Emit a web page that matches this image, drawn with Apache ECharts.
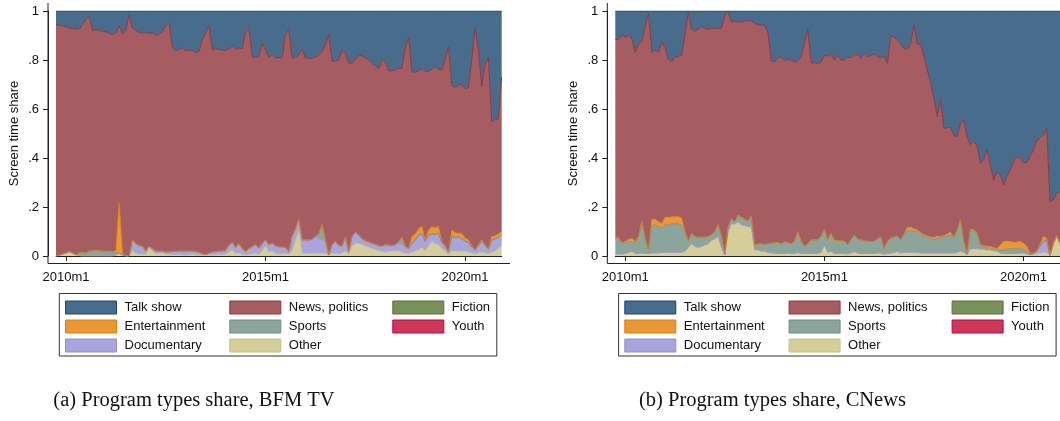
<!DOCTYPE html>
<html>
<head>
<meta charset="utf-8">
<script src="https://cdn.jsdelivr.net/npm/echarts@6/dist/echarts.min.js"></script>
<style>
html,body{margin:0;padding:0;background:#fff;}
#chart{width:1060px;height:421px;}
</style>
</head>
<body>
<div id="chart"></div>
<script>
// ---------- categories & tick labels ----------
const months = [];
for (let k = 0; k < 135; k++) { const m = 9 + k; months.push((2009 + Math.floor(m / 12)) + 'm' + (m % 12 + 1)); }
const xTickLabels = ['2010m1', '2015m1', '2020m1'];
const yTickLabels = ['0', '.2', '.4', '.6', '.8', '1'];
const seriesNames = ['Talk show', 'News, politics', 'Fiction', 'Entertainment', 'Sports', 'Youth', 'Documentary', 'Other'];
const captions = ['(a) Program types share, BFM TV', '(b) Program types share, CNews'];

// ---------- BFM TV (left panel) ----------
const talkL = [.057,.058,.06,.065,.07,.072,.074,.075,.055,.035,.023,.08,.075,.08,.082,
.085,.092,.095,.09,.06,.095,.08,.016,.07,.08,.088,.09,.088,.09,.09,
.098,.095,.085,.06,.05,.152,.162,.155,.15,.162,.16,.162,.17,.165,.12,
.09,.06,.16,.155,.155,.16,.162,.154,.144,.155,.15,.155,.087,.071,.187,
.19,.188,.132,.16,.19,.18,.19,.19,.19,.095,.075,.193,.19,.18,.155,
.193,.193,.193,.188,.18,.165,.138,.095,.207,.203,.2,.162,.173,.214,.212,
.2,.18,.183,.19,.2,.214,.224,.234,.2,.207,.245,.243,.241,.233,.234,
.152,.109,.25,.248,.245,.234,.248,.245,.238,.228,.237,.241,.2,.146,.305,
.312,.305,.298,.317,.314,.2,.071,.16,.307,.22,.19,.452,.442,.44,.27];
const newsL = [.943,.939,.932,.923,.912,.916,.921,.911,.93,.953,.957,.898,.901,.898,.898,
.895,.888,.887,.888,.723,.895,.92,.984,.865,.87,.87,.87,.892,.87,.88,
.882,.885,.895,.924,.933,.83,.819,.825,.83,.819,.82,.818,.812,.82,.872,
.904,.929,.824,.827,.825,.82,.816,.801,.801,.81,.80,.815,.895,.899,.775,
.764,.78,.818,.774,.765,.768,.768,.772,.774,.87,.907,.727,.70,.67,.779,
.741,.742,.739,.732,.73,.705,.796,.901,.747,.737,.757,.798,.75,.768,.708,
.703,.734,.747,.748,.743,.734,.729,.724,.76,.747,.71,.715,.713,.707,.689,
.808,.861,.67,.662,.645,.644,.686,.65,.642,.657,.643,.699,.757,.836,.589,
.593,.602,.609,.61,.62,.758,.904,.794,.627,.734,.78,.468,.475,.47,.63];
const fictionL = [0,0,0,0,0,0,0,0,0,0,0,0,0,0,0, 0,0,0,0,0,0,0,0,0,0,0,0,0,0,0,
0,0,0,0,0,0,0,0,0,0,0,0,0,0,0, 0,0,0,0,0,0,0,0,0,0,0,0,0,0,0, 0,0,0,0,0,0,0,0,0,0,0,0,0,0,0,
0,0,0,0,0,0,0,0,0,0,0,0,0,0,0, 0,0,0,0,0,0,0,0,0,0,0,0,0,0,0, 0,0,0,0,0,0,0,0,0,0,0,0,0,0,0,
0,0,0,0,0,0,0,0,0,0,0,0,0,0,0];
const entL = [0,0,0,0,0,0,0,0,0,0,0,0,0,0,0,
0,0,0,.01,.205,.006,0,0,0,0,0,0,0,0,0,
0,0,0,0,0,0,0,0,0,0,0,0,0,0,0,
0,0,0,0,0,0,0,0,0,0,0,0,0,0,0,
0,0,0,0,0,0,0,0,0,0,0,0,0,0,0,
0,0,0,0,0,0,0,0,0,0,0,0,0,0,0,
0,0,0,0,0,0,0,0,0,0,0,0,0,0,0,
0,0,.028,.025,.025,.03,.006,.02,.03,.027,.03,.005,.003,.002,.024,
.02,.015,.023,.013,.011,.005,.002,.004,.006,.004,.002,.015,.013,.015,.015];
const sportsL = [0,0,0,0,0,0,0,.012,.015,.012,.02,.022,.024,.022,.02,
.02,.02,.018,.008,0,0,0,0,0,0,0,0,0,0,0,
0,0,0,0,0,0,0,0,0,0,0,0,0,0,0,
0,0,0,0,0,0,0,0,0,0,0,0,0,0,0,
0,0,0,0,0,0,0,0,0,0,0,0,0,0,0,
0,0,0,0,.02,.065,0,0,0,0,0,0,0,0,0,
0,0,0,0,0,0,0,0,0,0,0,0,0,.01,.027,
.005,0,0,0,0,0,0,0,0,0,0,0,0,0,0,
0,0,0,0,0,0,0,0,0,0,0,0,0,0,0];
const youthL = [0,0,0,0,0,0,0,0,0,0,0,0,0,0,0, 0,0,0,0,0,0,0,0,0,0,0,0,0,0,0,
0,0,0,0,0,0,0,0,0,0,0,0,0,0,0, 0,0,0,0,0,0,0,0,0,0,0,0,0,0,0, 0,0,0,0,0,0,0,0,0,0,0,0,0,0,0,
0,0,0,0,0,0,0,0,0,0,0,0,0,0,0, 0,0,0,0,0,0,0,0,0,0,0,0,0,0,0, 0,0,0,0,0,0,0,0,0,0,0,0,0,0,0,
0,0,0,0,0,0,0,0,0,0,0,0,0,0,0];
const docL = [0,0,0,0,0,0,0,0,0,0,0,0,0,0,0,
0,0,0,0,0,0,0,0,.045,.04,.036,.032,.014,.008,.012,
.012,.01,.008,.01,.012,.014,.015,.015,.016,.016,.016,.014,.014,.012,.006,
.004,.008,.012,.014,.015,.016,.016,.03,.03,.025,.038,.024,.014,.025,.03,
.036,.026,.03,.026,.03,.032,.032,.03,.028,.025,.013,.06,.05,.05,.054,
.056,.055,.058,.068,.06,.055,.056,.002,.036,.05,.035,.03,.057,.012,.04,
.047,.036,.025,.022,.022,.022,.022,.022,.022,.031,.027,.022,.026,.03,.035,
.025,.022,.037,.045,.06,.057,.04,.045,.03,.038,.045,.025,.02,.012,.062,
.055,.06,.05,.04,.04,.025,.015,.03,.045,.03,.018,.05,.05,.045,.04];
const otherL = [0,.003,.008,.012,.018,.012,.005,.002,0,0,0,0,0,0,0,
0,0,0,.004,.012,.004,0,0,.02,.01,.006,.008,.006,.032,.018,
.008,.01,.012,.006,.005,.004,.004,.005,.004,.003,.004,.006,.004,.003,.002,
.002,.003,.004,.004,.005,.004,.006,.015,.025,.01,.012,.006,.004,.005,.008,
.01,.006,.02,.04,.015,.02,.01,.008,.008,.01,.005,.02,.06,.1,.012,
.01,.01,.01,.012,.01,.01,.01,.002,.01,.01,.008,.01,.02,.006,.04,
.05,.05,.045,.04,.035,.03,.025,.02,.018,.015,.018,.02,.02,.02,.015,
.01,.008,.015,.02,.025,.035,.02,.04,.06,.05,.045,.03,.02,.004,.02,
.02,.018,.02,.02,.015,.012,.008,.012,.015,.012,.01,.015,.02,.03,.045];

// ---------- CNews (right panel) ----------
const talkR = [.116,.116,.098,.107,.1,.114,.17,.135,.125,.065,.01,.169,.159,.17,.127,
.151,.197,.207,.187,.184,.18,.1,.007,.075,.082,.075,.064,.071,.074,.071,
.071,.071,.07,.017,.003,.048,.041,.044,.044,.04,.04,.041,.05,.057,.058,
.058,.09,.204,.207,.19,.188,.203,.197,.2,.208,.203,.19,.132,.075,.211,
.213,.214,.211,.18,.184,.176,.2,.18,.2,.2,.189,.19,.177,.18,.193,
.173,.187,.182,.176,.187,.19,.184,.214,.102,.105,.121,.136,.152,.157,.136,
.057,.135,.136,.187,.241,.295,.356,.431,.364,.479,.476,.476,.506,.514,.46,
.445,.513,.547,.534,.547,.622,.608,.567,.629,.69,.656,.669,.71,.676,.649,
.615,.595,.601,.622,.618,.595,.567,.527,.52,.506,.479,.778,.771,.743,.736];
const newsR = [.809,.81,.848,.834,.832,.814,.772,.785,.731,.865,.965,.681,.691,.69,.74,
.691,.645,.633,.653,.656,.665,.8,.932,.832,.839,.848,.859,.852,.846,.843,
.829,.799,.851,.975,.877,.799,.819,.789,.798,.81,.816,.796,.905,.893,.892,
.894,.86,.744,.738,.755,.762,.739,.748,.75,.732,.697,.75,.828,.875,.723,
.721,.72,.709,.712,.75,.731,.735,.757,.737,.74,.765,.745,.737,.75,.741,
.765,.753,.758,.764,.743,.731,.785,.726,.825,.817,.797,.798,.758,.726,.747,
.831,.76,.769,.726,.677,.627,.568,.487,.556,.437,.434,.426,.417,.381,.393,
.495,.477,.343,.358,.359,.331,.35,.393,.332,.275,.314,.287,.23,.263,.291,
.329,.348,.339,.326,.342,.395,.421,.453,.43,.414,.449,.219,.179,.174,.214];
const fictionR = [0,0,0,0,0,0,0,0,0,0,0,0,0,0,0, 0,0,0,0,0,0,0,0,0,0,0,0,0,0,0,
0,0,0,0,0,0,0,0,0,0,0,0,0,0,0, 0,0,0,0,0,0,0,0,0,0,0,0,0,0,0, 0,0,0,0,0,0,0,0,0,0,0,0,0,0,0,
0,0,0,0,0,0,0,0,0,0,0,0,0,0,0, 0,0,0,0,0,0,0,0,0,0,0,0,0,0,0, 0,0,0,0,0,0,0,0,0,0,0,0,0,0,0,
0,0,0,0,0,0,0,0,0,0,0,0,0,0,0];
const entR = [0,0,0,.004,.008,.015,.006,0,0,0,0,.027,.023,.02,.019,
.031,.03,.029,.029,.029,.03,0,0,0,0,0,0,0,0,0,
0,0,0,0,0,0,0,0,0,0,0,0,0,0,0,
0,0,0,0,0,0,0,0,0,0,0,0,0,0,0,
0,0,0,0,0,0,0,0,0,0,0,0,0,0,0,
0,0,0,0,0,0,0,0,0,0,0,0,0,.014,.014,
.01,.008,.008,.005,.006,.006,.008,.01,.006,.006,.008,.01,.005,0,0,
0,0,.005,.004,.004,.005,.006,.007,.008,.007,.005,.02,.035,.033,.03,
.026,.027,.028,.025,.022,.003,.002,.002,.01,.02,.01,0,0,0,0];
const sportsR = [.067,.066,.046,.045,.045,.037,.042,.07,.132,.06,.015,.111,.115,.107,.1,
.112,.113,.117,.116,.116,.11,.08,.026,.043,.039,.042,.037,.032,.03,.021,
.03,.05,.044,.004,.02,.02,.01,.027,.031,.025,.024,.043,.02,.025,.03,
.028,.035,.04,.043,.045,.04,.048,.043,.04,.05,.085,.05,.03,.04,.056,
.056,.056,.065,.063,.051,.073,.055,.053,.053,.05,.038,.053,.068,.058,.056,
.052,.05,.05,.05,.058,.067,.025,.05,.061,.063,.064,.054,.075,.088,.088,
.087,.082,.075,.07,.064,.06,.056,.06,.062,.066,.07,.076,.06,.09,.127,
.045,.005,.075,.074,.06,.014,.008,.008,.006,.006,.005,.012,.015,.018,.02,
.02,.02,.02,.015,.01,.002,0,0,0,0,0,0,0,0,0];
const youthR = [0,0,0,0,0,0,0,0,0,0,0,0,0,0,0, 0,0,0,0,0,0,0,0,0,0,0,0,0,0,0,
0,0,0,0,0,0,0,0,0,0,0,0,0,0,0, 0,0,0,0,0,0,0,0,0,0,0,0,0,0,0, 0,0,0,0,0,0,0,0,0,0,0,0,0,0,0,
0,0,0,0,0,0,0,0,0,0,0,0,0,0,0, 0,0,0,0,0,0,0,0,0,0,0,0,0,0,0, 0,0,0,0,0,0,0,0,0,0,0,0,0,0,0,
0,0,0,0,0,0,0,0,0,0,0,0,0,0,0];
const docR = [0,0,0,0,0,0,0,0,0,0,0,0,0,0,0, 0,0,0,0,0,0,0,0,0,0,0,0,0,0,0,
0,0,0,0,0,0,0,0,0,0,0,0,0,0,0, 0,0,0,0,0,0,0,0,0,0,0,0,0,0,0, 0,0,0,0,0,0,0,0,0,0,0,0,0,0,0,
0,0,0,0,0,0,0,0,0,0,0,0,0,0,0, 0,0,0,0,0,0,0,0,0,0,0,0,0,0,0, 0,0,0,0,0,0,0,0,0,0,0,0,0,0,0,
0,0,0,0,0,0,.005,.01,.03,.045,.05,0,0,0,0];
const otherR = [.008,.008,.008,.01,.015,.02,.01,.01,.012,.01,.01,.012,.012,.013,.014,
.015,.015,.014,.015,.015,.015,.02,.035,.05,.04,.035,.04,.045,.05,.065,
.07,.08,.035,.004,.1,.133,.13,.14,.127,.125,.12,.12,.025,.025,.02,
.02,.015,.012,.012,.01,.01,.01,.012,.01,.01,.015,.01,.01,.01,.01,
.01,.01,.015,.045,.015,.02,.01,.01,.01,.01,.008,.012,.018,.012,.01,
.01,.01,.01,.01,.012,.012,.006,.01,.012,.015,.018,.012,.015,.015,.015,
.015,.015,.012,.012,.012,.012,.012,.012,.012,.012,.012,.012,.012,.015,.02,
.015,.005,.03,.03,.03,.028,.028,.025,.025,.022,.02,.012,.01,.01,.01,
.01,.01,.012,.012,.008,.005,.005,.008,.01,.015,.012,.003,.05,.083,.05];

// ---------- styles ----------
const fills = {'Talk show':'#486c8c','News, politics':'#a65d62','Fiction':'#779159','Entertainment':'#e99833',
  'Sports':'#8ba59d','Youth':'#cd375d','Documentary':'#a9a4db','Other':'#d5ce98'};
const lines = {'Talk show':'#1a476f','News, politics':'#90353b','Fiction':'#55752f','Entertainment':'#e37e00',
  'Sports':'#6e8e84','Youth':'#c10534','Documentary':'#938dd2','Other':'#cac27e'};
const lineW = {'Talk show':1,'News, politics':1,'Fiction':0,'Entertainment':0.8,'Sports':0.8,'Youth':0,'Documentary':0.8,'Other':0.8};
const FONT = 'Liberation Sans, Arial, sans-serif';
const AX = '#222';

const panels = [
  {left:56, data:{'Other':otherL,'Documentary':docL,'Youth':youthL,'Sports':sportsL,'Entertainment':entL,'Fiction':fictionL,'News, politics':newsL,'Talk show':talkL}},
  {left:615.3, data:{'Other':otherR,'Documentary':docR,'Youth':youthR,'Sports':sportsR,'Entertainment':entR,'Fiction':fictionR,'News, politics':newsR,'Talk show':talkR}}
];
const stackOrder = ['Other','Documentary','Youth','Sports','Entertainment','Fiction','News, politics','Talk show'];

const grid = [], xAxis = [], yAxis = [], series = [], legend = [], graphic = [];
panels.forEach((p, gi) => {
  grid.push({left:p.left, top:11, width:445.7, height:245, containLabel:false});
  const showTick = (idx, val) => xTickLabels.indexOf(val) >= 0;
  xAxis.push({gridIndex:gi, type:'category', data:months, boundaryGap:false, offset:7,
    axisLine:{show:true, lineStyle:{color:AX, width:1}},
    axisTick:{show:true, interval:showTick, length:5, lineStyle:{color:AX, width:1}},
    axisLabel:{interval:showTick, margin:8, fontSize:13, color:'#111', fontFamily:FONT},
    splitLine:{show:false}});
  yAxis.push({gridIndex:gi, type:'value', min:0, max:1, interval:0.2, offset:8,
    axisLine:{show:true, lineStyle:{color:AX, width:1}},
    axisTick:{show:true, length:5, lineStyle:{color:AX, width:1}},
    axisLabel:{margin:9, fontSize:13, color:'#111', fontFamily:FONT, formatter:v => yTickLabels[Math.round(v / 0.2)]},
    splitLine:{show:false},
    name:'Screen time share', nameLocation:'middle', nameGap:27,
    nameTextStyle:{fontSize:13, color:'#111', fontFamily:FONT}});
  stackOrder.forEach(name => {
    series.push({name, type:'line', data:p.data[name], xAxisIndex:gi, yAxisIndex:gi,
      stack:'s' + gi, symbol:'none', showSymbol:false, silent:true, animation:false,
      lineStyle:{color:lines[name], width:lineW[name], opacity: lineW[name] ? 1 : 0},
      itemStyle:{color:fills[name]},
      areaStyle:{color:fills[name], opacity:1},
      emphasis:{disabled:true}});
  });
  // legend: three columns
  const cols = [['Talk show','Entertainment','Documentary'],['News, politics','Sports','Other'],['Fiction','Youth']];
  const colLeft = [p.left + 9, p.left + 173.3, p.left + 336.3];
  cols.forEach((c, ci) => {
    legend.push({orient:'vertical', left:colLeft[ci], top:300.5, padding:0, itemGap:5,
      itemWidth:51, itemHeight:13, icon:'rect', selectedMode:false,
      textStyle:{fontSize:13, color:'#111', fontFamily:FONT, padding:[0,0,0,3]},
      data:c.map(n => ({name:n, itemStyle:{color:fills[n], borderColor:lines[n], borderWidth:1}}))});
  });
  const ax = p.left - 8, ay = 263.5;
  graphic.push({type:'line', shape:{x1:ax, y1:3, x2:ax, y2:ay}, style:{stroke:AX, lineWidth:1}, silent:true, z:10});
  graphic.push({type:'line', shape:{x1:ax, y1:ay, x2:p.left + 454, y2:ay}, style:{stroke:AX, lineWidth:1}, silent:true, z:10});
  graphic.push({type:'rect', shape:{x:p.left + 3.3, y:293.5, width:437.5, height:62.5},
    style:{fill:'none', stroke:'#333', lineWidth:1}, silent:true});
  graphic.push({type:'text', x: gi === 0 ? 194 : 772.5, y:401,
    style:{text:captions[gi], font:'20.5px "Liberation Serif", "DejaVu Serif", serif', fill:'#111', textAlign:'center', textVerticalAlign:'middle'}, silent:true});
});

const chart = echarts.init(document.getElementById('chart'), null, {renderer:'canvas'});
chart.setOption({animation:false, backgroundColor:'#fff', grid, xAxis, yAxis, series, legend, graphic});
</script>
</body>
</html>
